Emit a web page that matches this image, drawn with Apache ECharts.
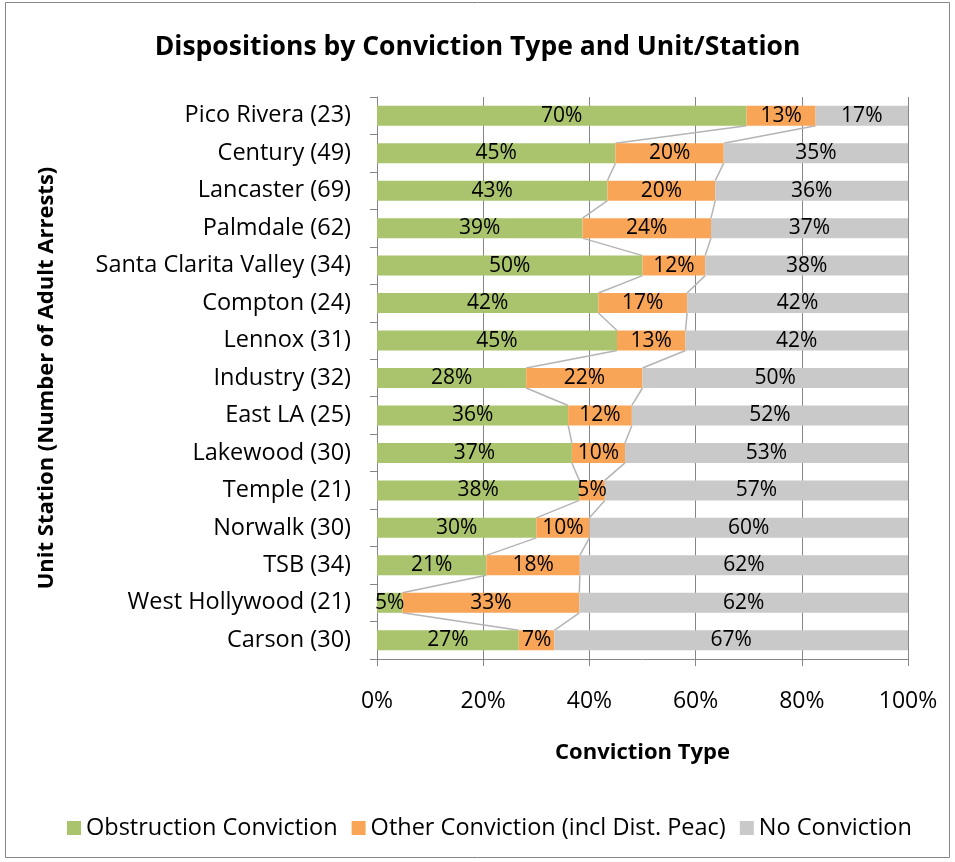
<!DOCTYPE html>
<html>
<head>
<meta charset="utf-8">
<script src="https://cdn.jsdelivr.net/npm/echarts@6/dist/echarts.min.js"></script>
<style>
  html, body { margin: 0; padding: 0; background: #fff; }
  #main { width: 955px; height: 862px; }
</style>
</head>
<body>
<div id="main"></div>
<script>
// unit/station, top to bottom
const stations = ['Pico Rivera (23)', 'Century (49)', 'Lancaster (69)', 'Palmdale (62)',
  'Santa Clarita Valley (34)', 'Compton (24)', 'Lennox (31)', 'Industry (32)', 'East LA (25)',
  'Lakewood (30)', 'Temple (21)', 'Norwalk (30)', 'TSB (34)', 'West Hollywood (21)', 'Carson (30)'];

// share of arrests, in percent
const obstruction = [69.6, 44.9, 43.4, 38.7, 50.0, 41.7, 45.2, 28.1, 36.0, 36.7, 38.1, 30.0, 20.6, 4.8, 26.7];
const otherConv = [13.0, 20.4, 20.3, 24.2, 11.8, 16.7, 12.9, 21.9, 12.0, 10.0, 4.8, 10.0, 17.6, 33.3, 6.7];
const noConv = [17.4, 34.7, 36.3, 37.1, 38.2, 41.7, 41.9, 50.0, 52.0, 53.3, 57.1, 60.0, 61.8, 61.9, 66.7];

const xTicks = [0, 20, 40, 60, 80, 100];

const FONT = 'Open Sans';
const BAR_W = 20;

// series lines between neighbouring bars (Excel style)
const connectors = [];
for (let i = 0; i < stations.length - 1; i++) {
    connectors.push([i, obstruction[i], obstruction[i + 1],
        obstruction[i] + otherConv[i], obstruction[i + 1] + otherConv[i + 1]]);
}

const lbl = {
    show: true,
    position: 'inside',
    color: '#000',
    fontFamily: FONT,
    fontSize: 21,
    formatter: p => Math.round(p.value) + '%'
};

let myChart = echarts.init(document.getElementById('main'));
let option = {
    animation: false,
    textStyle: { fontFamily: FONT },
    title: {
        text: 'Dispositions by Conviction Type and Unit/Station',
        left: 'center',
        top: 29,
        textStyle: { fontFamily: FONT, fontSize: 26.5, fontWeight: 'bold', color: '#000' }
    },
    graphic: [{
        type: 'rect',
        shape: { x: 5.5, y: 2.5, width: 944, height: 855 },
        style: { fill: 'none', stroke: '#868686', lineWidth: 1 },
        silent: true
    }],
    legend: {
        data: ['Obstruction Conviction', 'Other Conviction (incl Dist. Peac)', 'No Conviction'],
        bottom: 17,
        left: 62,
        icon: 'rect',
        itemWidth: 14,
        itemHeight: 14,
        itemGap: 14,
        textStyle: { fontFamily: FONT, fontSize: 23.5, color: '#000' }
    },
    grid: { left: 377, right: 47, top: 97, bottom: 203, containLabel: false },
    xAxis: {
        type: 'value',
        min: 0,
        max: 100,
        interval: 20,
        name: 'Conviction Type',
        nameLocation: 'middle',
        nameGap: 83,
        nameTextStyle: { fontFamily: FONT, fontSize: 22, fontWeight: 'bold', color: '#000' },
        axisLine: { show: true, lineStyle: { color: '#868686' } },
        axisTick: { show: true, length: 7, lineStyle: { color: '#868686' } },
        axisLabel: {
            margin: 31, color: '#000', fontFamily: FONT, fontSize: 23,
            formatter: v => xTicks.includes(v) ? v + '%' : ''
        },
        splitLine: { show: true, lineStyle: { color: '#868686', width: 1 } }
    },
    yAxis: {
        type: 'category',
        data: stations,
        inverse: true,
        name: 'Unit Station (Number of Adult Arrests)',
        nameLocation: 'middle',
        nameGap: 319,
        nameTextStyle: { fontFamily: FONT, fontSize: 22, fontWeight: 'bold', color: '#000' },
        axisLine: { show: true, lineStyle: { color: '#868686' } },
        axisTick: { show: true, length: 7, lineStyle: { color: '#868686' } },
        axisLabel: { margin: 26, color: '#000', fontFamily: FONT, fontSize: 23.5 }
    },
    series: [
        {
            name: 'Obstruction Conviction', type: 'bar', stack: 'all', barWidth: BAR_W,
            itemStyle: { color: '#a9c46c' }, label: lbl, data: obstruction
        },
        {
            name: 'Other Conviction (incl Dist. Peac)', type: 'bar', stack: 'all', barWidth: BAR_W,
            itemStyle: { color: '#f9a558' }, label: lbl, data: otherConv
        },
        {
            name: 'No Conviction', type: 'bar', stack: 'all', barWidth: BAR_W,
            itemStyle: { color: '#c9c9c9' }, label: lbl, data: noConv
        },
        {
            type: 'custom',
            silent: true,
            z: 1,
            encode: { x: 1, y: 0 },
            data: connectors,
            renderItem: function (params, api) {
                const i = api.value(0);
                const half = BAR_W / 2;
                const a1 = api.coord([api.value(1), i]);
                const a2 = api.coord([api.value(2), i + 1]);
                const b1 = api.coord([api.value(3), i]);
                const b2 = api.coord([api.value(4), i + 1]);
                const st = { stroke: '#b4b4b4', lineWidth: 1.5, fill: 'none' };
                return {
                    type: 'group',
                    children: [
                        { type: 'line', shape: { x1: a1[0], y1: a1[1] + half, x2: a2[0], y2: a2[1] - half }, style: st },
                        { type: 'line', shape: { x1: b1[0], y1: b1[1] + half, x2: b2[0], y2: b2[1] - half }, style: st }
                    ]
                };
            }
        }
    ]
};
myChart.setOption(option);
</script>
</body>
</html>
